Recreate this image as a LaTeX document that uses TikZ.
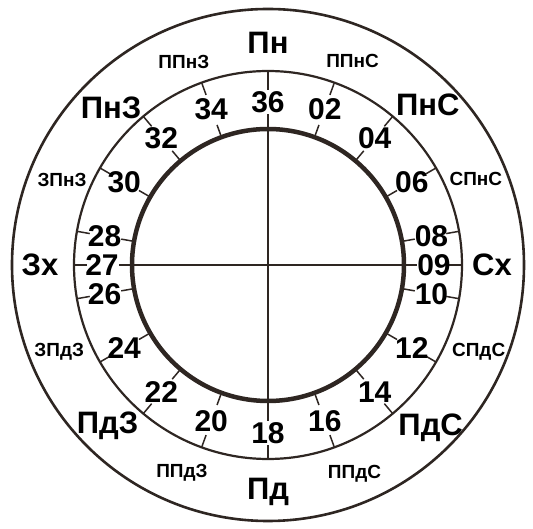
\documentclass[tikz,border=0pt]{standalone}
\usepackage{fontspec}
\setmainfont{Liberation Sans}
\usepackage{tikz}
\usetikzlibrary{calc}
\definecolor{dial-ink}{HTML}{2E2622}

\begin{document}
\begin{tikzpicture}[x=1pt, y=1pt,
    numlabel/.style={font=\fontsize{30}{30}\selectfont\bfseries, inner sep=1pt},
    dirlabel/.style={font=\fontsize{31}{31}\selectfont\bfseries, inner sep=1pt},
    sublabel/.style={font=\fontsize{19}{19}\selectfont\bfseries, inner sep=1pt},
    ticka/.style={dial-ink, line width=1.5pt}]
    \useasboundingbox (-268,-264) rectangle (265,265);
    \coordinate (O) at (0,0);
    % three rings
    \draw[dial-ink, line width=2.6pt] (O) circle (256);
    \draw[dial-ink, line width=2.2pt] (O) circle (194);
    \draw[dial-ink, line width=4.5pt] (O) circle (136);
    % cross
    \coordinate (top) at (90:194);
    \coordinate (bot) at (-90:194);
    \coordinate (lft) at (180:136);
    \coordinate (rgt) at (0:136);
    \draw[dial-ink, line width=1.5pt] (top) -- (bot);
    \draw[dial-ink, line width=1.5pt] (lft) -- (rgt);
    % scale marks and numbers
    \foreach \n/\t in {2/02, 4/04, 6/06, 8/08, 9/09, 10/10, 12/12, 14/14, 16/16,
                       20/20, 22/22, 24/24, 26/26, 27/27, 28/28, 30/30, 32/32, 34/34} {
        \draw[ticka] ({90-10*\n}:136) -- ({90-10*\n}:149);
        \draw[ticka] ({90-10*\n}:181) -- ({90-10*\n}:194);
        \node[numlabel] (num\t) at ({90-10*\n}:166) {\t};
    }
    \node[numlabel, fill=white] (num36) at (90:163) {36};
    \node[numlabel, fill=white] (num18) at (-90:168) {18};
    % main directions
    \node[dirlabel] (pn)  at (90:222)   {Пн};
    \node[dirlabel] (pns) at (45:226)   {ПнС};
    \node[dirlabel] (sx)  at (0:224)    {Сх};
    \node[dirlabel] (pds) at (-45:230)  {ПдС};
    \node[dirlabel] (pd)  at (-90:227)  {Пд};
    \node[dirlabel] (pdz) at (-135:227) {ПдЗ};
    \node[dirlabel] (zx)  at (180:228)  {Зх};
    \node[dirlabel] (pnz) at (135:222)  {ПнЗ};
    % intermediate directions
    \node[sublabel] (ppns) at (67.5:221)   {ППнС};
    \node[sublabel] (spns) at (22.5:225)   {СПнС};
    \node[sublabel] (spds) at (-22.5:228)  {СПдС};
    \node[sublabel] (ppds) at (-67.5:226)  {ППдС};
    \node[sublabel] (ppdz) at (-112.5:225) {ППдЗ};
    \node[sublabel] (zpdz) at (-157.5:226) {ЗПдЗ};
    \node[sublabel] (zpnz) at (157.5:223)  {ЗПнЗ};
    \node[sublabel] (ppnz) at (112.5:220)  {ППнЗ};
\end{tikzpicture}
\end{document}
